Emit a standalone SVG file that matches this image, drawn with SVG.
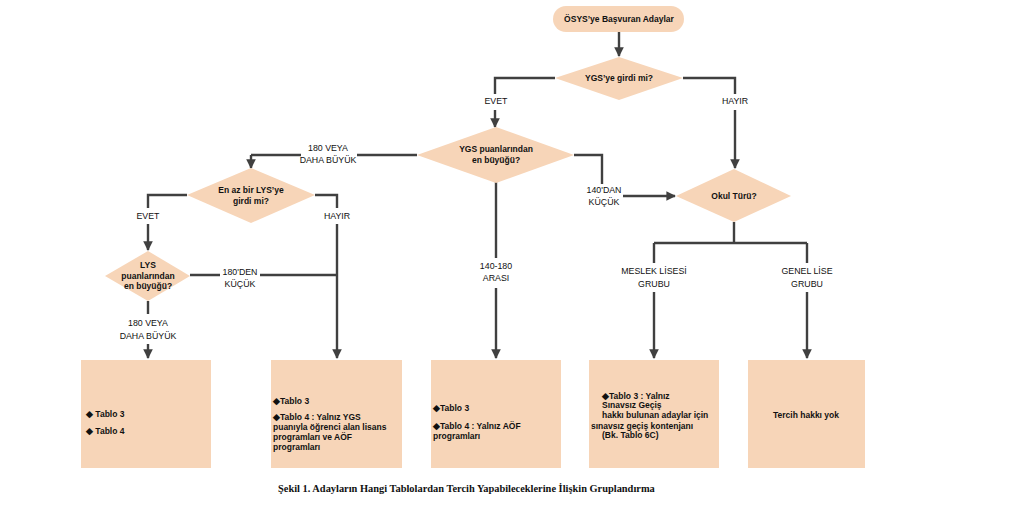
<svg xmlns="http://www.w3.org/2000/svg" width="1009" height="522" viewBox="0 0 1009 522">
<defs>
<marker id="ah" viewBox="0 0 10 10" refX="9" refY="5" markerWidth="4" markerHeight="4" orient="auto" markerUnits="strokeWidth">
<path d="M0,0 L10,5 L0,10 z" fill="#404040"/>
</marker>
<style>
.shape{fill:#F7D5B8;stroke:none}
.ln{fill:none;stroke:#404040;stroke-width:2.4}
.ar{fill:none;stroke:#404040;stroke-width:2.4;marker-end:url(#ah)}
text{font-family:"Liberation Sans",Arial,sans-serif;font-weight:bold;font-size:8.5px;fill:#111}
.c{text-anchor:middle}
.lbl{font-weight:normal;font-size:8.8px;fill:#111}
.cap{font-family:"Liberation Serif","Times New Roman",serif;font-weight:bold;font-size:10.4px}
</style>
</defs>
<rect width="1009" height="522" fill="#fff"/>
<g id="connectors">
<path class="ar" d="M619,32 V56"/>
<path class="ln" d="M555,78 H495 V94"/>
<path class="ar" d="M495,110 V127"/>
<path class="ln" d="M683,78 H735 V94"/>
<path class="ar" d="M735,110 V168"/>
<path class="ln" d="M417,155 H357"/>
<path class="ln" d="M301,155 H251"/>
<path class="ar" d="M251,155 V168"/>
<path class="ln" d="M574,155 H602 V184"/>
<path class="ar" d="M623,196 H675"/>
<path class="ln" d="M734,222 V243 M654,243 H807 M654,243 V263 M807,243 V263"/>
<path class="ar" d="M654,292 V358"/>
<path class="ar" d="M807,292 V358"/>
<path class="ln" d="M187,195 H148 V208"/>
<path class="ar" d="M148,224 V250"/>
<path class="ln" d="M315,195 H337 V208"/>
<path class="ar" d="M337,224 V358"/>
<path class="ln" d="M190,275 H220 M260,275 H337"/>
<path class="ln" d="M148,301 V314"/>
<path class="ar" d="M148,344 V358"/>
<path class="ln" d="M496,182 V258"/>
<path class="ar" d="M496,288 V358"/>
</g>
<g id="labels">
<text class="c lbl" x="496" y="104">EVET</text>
<text class="c lbl" x="735" y="104">HAYIR</text>
<text class="c lbl" x="328" y="151">180 VEYA</text>
<text class="c lbl" x="328" y="163">DAHA BÜYÜK</text>
<text class="c lbl" x="604" y="193">140'DAN</text>
<text class="c lbl" x="604" y="205">KÜÇÜK</text>
<text class="c lbl" x="148" y="219">EVET</text>
<text class="c lbl" x="337" y="219">HAYIR</text>
<text class="c lbl" x="240" y="275">180'DEN</text>
<text class="c lbl" x="240" y="287">KÜÇÜK</text>
<text class="c lbl" x="148" y="326">180 VEYA</text>
<text class="c lbl" x="148" y="339">DAHA BÜYÜK</text>
<text class="c lbl" x="496" y="269">140-180</text>
<text class="c lbl" x="496" y="281">ARASI</text>
<text class="c lbl" x="654" y="274">MESLEK LİSESİ</text>
<text class="c lbl" x="654" y="287">GRUBU</text>
<text class="c lbl" x="807" y="274">GENEL LİSE</text>
<text class="c lbl" x="807" y="287">GRUBU</text>
</g>
<g id="start">
<rect class="shape" x="553" y="6" width="131" height="26" rx="13"/>
<text class="c" x="619" y="22">ÖSYS’ye Başvuran Adaylar</text>
</g>
<g id="d-ygs-girdi">
<path class="shape" d="M619,57 L683,78 L619,100 L555,78 z"/>
<text class="c" x="619" y="81">YGS’ye girdi mi?</text>
</g>
<g id="d-ygs-puan">
<path class="shape" d="M496,127 L574,155 L496,183 L417,155 z"/>
<text class="c" x="496" y="152">YGS puanlarından</text>
<text class="c" x="496" y="163">en büyüğü?</text>
</g>
<g id="d-lys-girdi">
<path class="shape" d="M251,168 L315,195 L251,223 L187,195 z"/>
<text class="c" x="251" y="193">En az bir LYS’ye</text>
<text class="c" x="251" y="204">girdi mi?</text>
</g>
<g id="d-lys-puan">
<path class="shape" d="M148,251 L190,276 L148,301 L105,276 z"/>
<text class="c" x="148" y="268">LYS</text>
<text class="c" x="148" y="279">puanlarından</text>
<text class="c" x="148" y="289">en büyüğü?</text>
</g>
<g id="d-okul">
<path class="shape" d="M734,169 L791,196 L734,222 L676,196 z"/>
<text class="c" x="734" y="199">Okul Türü?</text>
</g>
<g id="box1">
<rect class="shape" x="81" y="360" width="130" height="108"/>
<text x="86" y="417">◆ Tablo 3</text>
<text x="86" y="434">◆ Tablo 4</text>
</g>
<g id="box2">
<rect class="shape" x="271" y="360" width="131" height="108"/>
<text x="273" y="404">◆Tablo 3</text>
<text x="273" y="420">◆Tablo 4 : Yalnız YGS</text>
<text x="273" y="430">puanıyla öğrenci alan lisans</text>
<text x="273" y="440">programları ve AÖF</text>
<text x="273" y="450">programları</text>
</g>
<g id="box3">
<rect class="shape" x="431" y="360" width="130" height="108"/>
<text x="433" y="411">◆Tablo 3</text>
<text x="433" y="429">◆Tablo 4 : Yalnız AÖF</text>
<text x="433" y="439">programları</text>
</g>
<g id="box4">
<rect class="shape" x="589" y="360" width="130" height="108"/>
<text x="602" y="399">◆Tablo 3 : Yalnız</text>
<text x="602" y="408">Sınavsız Geçiş</text>
<text x="602" y="418">hakkı bulunan adaylar için</text>
<text x="591" y="429">sınavsız geçiş kontenjanı</text>
<text x="602" y="438">(Bk. Tablo 6C)</text>
</g>
<g id="box5">
<rect class="shape" x="748" y="360" width="117" height="108"/>
<text class="c" x="806" y="418">Tercih hakkı yok</text>
</g>
<text class="cap" x="278" y="492">Şekil 1. Adayların Hangi Tablolardan Tercih Yapabileceklerine İlişkin Gruplandırma</text>
</svg>
